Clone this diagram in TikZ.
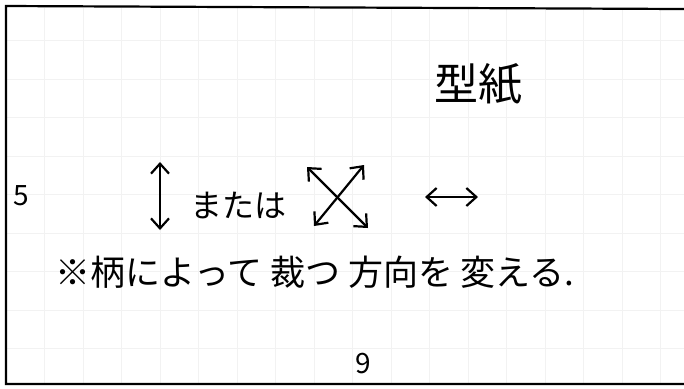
\documentclass[tikz,border=0pt]{standalone}
\usepackage{fontspec}
\newfontfamily\jpfont{Noto Sans CJK JP}
\usetikzlibrary{arrows.meta}

\begin{document}
\begin{tikzpicture}[x=0.5pt,y=-0.5pt]
\tikzstyle{every node}=[font=\jpfont,inner sep=0pt]
\tikzstyle{gridline}=[black!5,line width=0.4pt]
\tikzstyle{dirarrow}=[line width=1.1pt,{Straight Barb[length=5pt,width=9pt]}-{Straight Barb[length=5pt,width=9pt]}]

\newcommand{\sq}{38.5}

\useasboundingbox (0,0) rectangle (684,388);

% faint grid of the paper
\foreach \i in {1,...,17}{
    \draw[gridline] (6+\i*\sq,8) -- (6+\i*\sq,384);
}
\foreach \j in {1,...,9}{
    \draw[gridline] (6,2+\j*\sq) -- (684,2+\j*\sq);
}

% pattern outline (open to the right)
\path (684,9) coordinate (p_tr); \path (6,6) coordinate (p_tl);
\path (6,384) coordinate (p_bl); \path (684,384) coordinate (p_br);
\draw[line width=1.1pt] (p_tr) -- (p_tl) -- (p_bl) -- (p_br);

\node (title) at (478,84) {\fontsize{22}{24}\selectfont 型紙};
\node (h5) at (21,196) {\fontsize{14}{16}\selectfont 5};
\node (w9) at (363,363) {\fontsize{14}{16}\selectfont 9};
\node (or) at (238,206) {\fontsize{16}{18}\selectfont または};
\node (note) at (315,272) {\fontsize{17.5}{20}\selectfont ※柄によって 裁つ 方向を 変える.};

% grain directions
\path (160,162) coordinate (v_1); \path (160,230) coordinate (v_2);
\path (307,167) coordinate (x_1); \path (368,228) coordinate (x_2);
\path (364,165) coordinate (x_3); \path (314,226) coordinate (x_4);
\path (425,197) coordinate (h_1); \path (478,197) coordinate (h_2);

\draw[dirarrow] (v_1) -- (v_2);
\draw[dirarrow] (x_1) -- (x_2);
\draw[dirarrow] (x_3) -- (x_4);
\draw[dirarrow] (h_1) -- (h_2);
\end{tikzpicture}
\end{document}
